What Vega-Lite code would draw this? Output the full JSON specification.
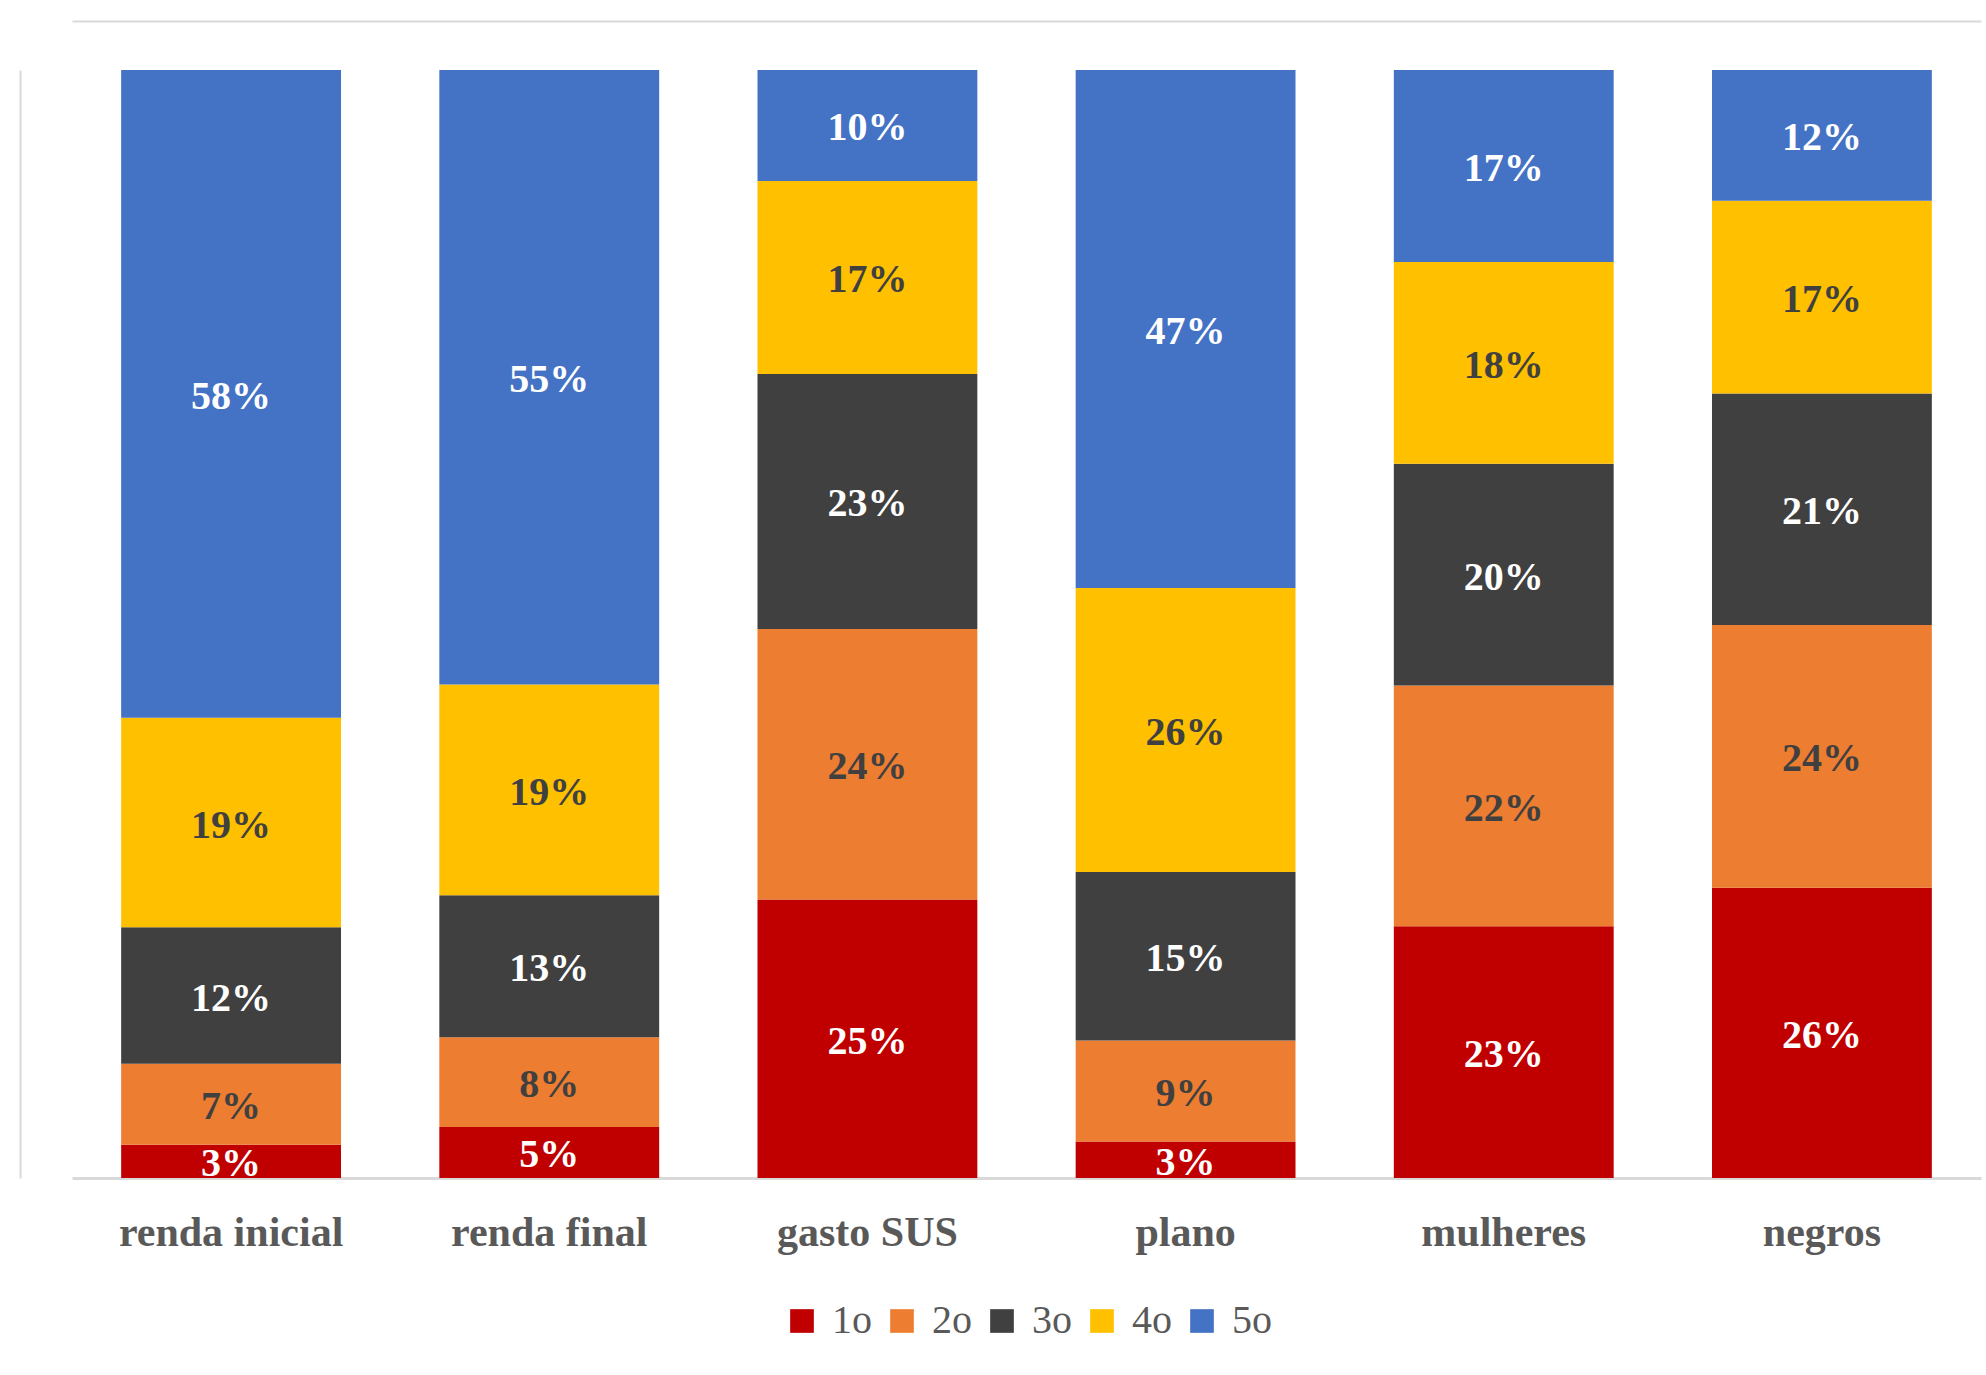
{
  "$schema": "https://vega.github.io/schema/vega-lite/v6.json",
  "width": 1909,
  "height": 1108,
  "autosize": {"type": "none"},
  "padding": {"left": 72, "top": 70, "right": 5, "bottom": 197},
  "background": "white",
  "title": {
    "text": "per capita. Brasil, 2018",
    "anchor": "start",
    "frame": "group",
    "baseline": "alphabetic",
    "offset": 0,
    "dx": -57,
    "dy": 20,
    "font": "Liberation Serif",
    "fontStyle": "italic",
    "fontWeight": "bold",
    "fontSize": 52,
    "color": "#000000"
  },
  "data": {
    "values": [
      {"cat": "renda inicial", "q": "1o", "v": 0.030},
      {"cat": "renda inicial", "q": "2o", "v": 0.073},
      {"cat": "renda inicial", "q": "3o", "v": 0.123},
      {"cat": "renda inicial", "q": "4o", "v": 0.189},
      {"cat": "renda inicial", "q": "5o", "v": 0.584},
      {"cat": "renda final", "q": "1o", "v": 0.046},
      {"cat": "renda final", "q": "2o", "v": 0.081},
      {"cat": "renda final", "q": "3o", "v": 0.128},
      {"cat": "renda final", "q": "4o", "v": 0.190},
      {"cat": "renda final", "q": "5o", "v": 0.554},
      {"cat": "gasto SUS", "q": "1o", "v": 0.251},
      {"cat": "gasto SUS", "q": "2o", "v": 0.244},
      {"cat": "gasto SUS", "q": "3o", "v": 0.230},
      {"cat": "gasto SUS", "q": "4o", "v": 0.174},
      {"cat": "gasto SUS", "q": "5o", "v": 0.100},
      {"cat": "plano", "q": "1o", "v": 0.033},
      {"cat": "plano", "q": "2o", "v": 0.091},
      {"cat": "plano", "q": "3o", "v": 0.152},
      {"cat": "plano", "q": "4o", "v": 0.256},
      {"cat": "plano", "q": "5o", "v": 0.467},
      {"cat": "mulheres", "q": "1o", "v": 0.227},
      {"cat": "mulheres", "q": "2o", "v": 0.217},
      {"cat": "mulheres", "q": "3o", "v": 0.200},
      {"cat": "mulheres", "q": "4o", "v": 0.182},
      {"cat": "mulheres", "q": "5o", "v": 0.173},
      {"cat": "negros", "q": "1o", "v": 0.262},
      {"cat": "negros", "q": "2o", "v": 0.237},
      {"cat": "negros", "q": "3o", "v": 0.209},
      {"cat": "negros", "q": "4o", "v": 0.174},
      {"cat": "negros", "q": "5o", "v": 0.118}
    ]
  },
  "layer": [
    {
      "mark": {"type": "bar"},
      "encoding": {
        "x": {
          "field": "cat",
          "type": "nominal",
          "sort": null,
          "scale": {"paddingInner": 0.309, "paddingOuter": 0.1545},
          "axis": {
            "orient": "bottom",
            "title": null,
            "labelAngle": 0,
            "ticks": false,
            "tickSize": 0,
            "domainColor": "#d9d9d9",
            "domainWidth": 3,
            "labelFont": "Liberation Serif",
            "labelFontWeight": "bold",
            "labelFontSize": 42,
            "labelColor": "#595959",
            "labelBaseline": "alphabetic",
            "labelPadding": 67,
            "labelLimit": 0
          }
        },
        "y": {
          "field": "v",
          "type": "quantitative",
          "stack": "normalize",
          "scale": {"domain": [0, 1], "nice": false},
          "axis": {
            "orient": "left",
            "offset": 52,
            "title": null,
            "labels": false,
            "ticks": false,
            "grid": false,
            "domain": true,
            "domainColor": "#d9d9d9",
            "domainWidth": 2
          }
        },
        "color": {
          "field": "q",
          "type": "nominal",
          "scale": {
            "domain": ["1o", "2o", "3o", "4o", "5o"],
            "range": ["#C00000", "#ED7D31", "#404040", "#FFC000", "#4472C4"]
          },
          "legend": {
            "title": null,
            "orient": "bottom",
            "direction": "horizontal",
            "offset": 48,
            "symbolType": "square",
            "symbolSize": 560,
            "symbolStrokeWidth": 0,
            "labelFont": "Liberation Serif",
            "labelFontSize": 40,
            "labelColor": "#595959",
            "labelOffset": 10,
            "columnPadding": 10
          }
        },
        "order": {"field": "q", "type": "ordinal"}
      }
    },
    {
      "mark": {
        "type": "text",
        "font": "Liberation Serif",
        "fontWeight": "bold",
        "fontSize": 40,
        "baseline": "middle",
        "align": "center",
        "dy": 3,
        "clip": true
      },
      "encoding": {
        "x": {
          "field": "cat",
          "type": "nominal",
          "sort": null,
          "scale": {"paddingInner": 0.309, "paddingOuter": 0.1545},
          "axis": {
            "orient": "top",
            "offset": 49,
            "title": null,
            "labels": false,
            "ticks": false,
            "domainColor": "#d9d9d9",
            "domainWidth": 2
          }
        },
        "y": {
          "field": "v",
          "type": "quantitative",
          "stack": "normalize",
          "bandPosition": 0.5
        },
        "detail": {"field": "q"},
        "order": {"field": "q", "type": "ordinal"},
        "text": {"field": "v", "type": "quantitative", "format": ".0%"},
        "color": {
          "condition": {"test": "datum.q === '2o' || datum.q === '4o'", "value": "#404040"},
          "value": "#ffffff"
        }
      }
    }
  ],
  "resolve": {"axis": {"x": "independent"}},
  "config": {
    "view": {"stroke": null},
    "legend": {"layout": {"bottom": {"anchor": "middle"}}}
  }
}
